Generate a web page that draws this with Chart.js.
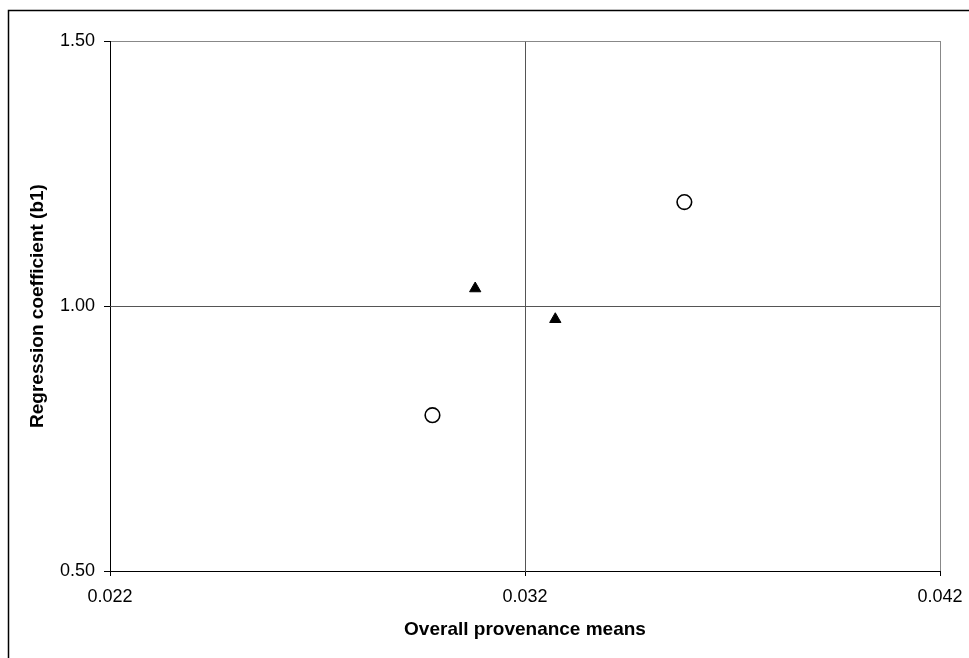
<!DOCTYPE html>
<html>
<head>
<meta charset="utf-8">
<script src="https://cdn.jsdelivr.net/npm/chart.js@4/dist/chart.umd.min.js"></script>
<style>
  html, body { margin: 0; padding: 0; background: #fff; }
  #wrap { width: 969px; height: 658px; position: relative; }
</style>
</head>
<body>
<div id="wrap"><canvas id="c"></canvas></div>
<script>
// Provenance groups: overall mean vs. regression coefficient (b1)
const triangleX = [0.0308, 0.03273];
const triangleY = [1.033, 0.975];
const circleX = [0.02977, 0.03584];
const circleY = [0.794, 1.196];

const xTicks = [0.022, 0.032, 0.042];
const yTicks = [0.50, 1.00, 1.50];

const xTitle = 'Overall provenance means';
const yTitle = 'Regression coefficient (b1)';

const FONT = 'Liberation Sans, Arial, Helvetica, sans-serif';

// Chart-area frame: top and left edges of the outer box
const outerFrame = {
  id: 'outerFrame',
  beforeDraw(chart) {
    const ctx = chart.ctx;
    ctx.save();
    ctx.strokeStyle = '#000';
    ctx.lineWidth = 1.5;
    ctx.beginPath();
    ctx.moveTo(8.5, 658);
    ctx.lineTo(8.5, 10.5);
    ctx.lineTo(969, 10.5);
    ctx.stroke();
    ctx.restore();
  }
};

const toPts = (xs, ys) => xs.map((x, i) => ({ x: x, y: ys[i] }));

new Chart(document.getElementById('c'), {
  type: 'scatter',
  data: {
    datasets: [
      {
        label: 'triangles',
        data: toPts(triangleX, triangleY),
        pointStyle: 'triangle',
        pointRadius: 6.5,
        pointHoverRadius: 6.5,
        backgroundColor: '#000',
        borderColor: '#000',
        borderWidth: 1
      },
      {
        label: 'circles',
        data: toPts(circleX, circleY),
        pointStyle: 'circle',
        pointRadius: 7.3,
        pointHoverRadius: 7.3,
        backgroundColor: '#fff',
        borderColor: '#000',
        borderWidth: 1.6
      }
    ]
  },
  options: {
    responsive: true,
    maintainAspectRatio: false,
    animation: false,
    events: [],
    layout: { padding: { left: 0, top: 41, right: 29, bottom: 0 } },
    plugins: {
      legend: { display: false },
      tooltip: { enabled: false }
    },
    scales: {
      x: {
        type: 'linear',
        min: xTicks[0],
        max: xTicks[xTicks.length - 1],
        afterBuildTicks: s => { s.ticks = xTicks.map(v => ({ value: v })); },
        afterFit: s => { s.height = 87; s.paddingLeft = 0; s.paddingRight = 0; },
        border: { display: true, color: '#000', width: 1 },
        grid: {
          drawTicks: true,
          tickLength: 5,
          tickColor: '#000',
          lineWidth: 1,
          color: ctx => ctx.index === 1 ? '#555' : (ctx.index === 2 ? '#888' : 'rgba(0,0,0,0)')
        },
        ticks: {
          color: '#000',
          padding: 10,
          maxRotation: 0,
          font: { family: FONT, size: 18 },
          callback: v => Number(v).toFixed(3)
        },
        title: {
          display: true,
          text: xTitle,
          color: '#000',
          padding: { top: 0, bottom: 16.6 },
          font: { family: FONT, size: 19, weight: 'bold' }
        }
      },
      y: {
        type: 'linear',
        min: yTicks[0],
        max: yTicks[yTicks.length - 1],
        afterBuildTicks: s => { s.ticks = yTicks.map(v => ({ value: v })); },
        afterFit: s => { s.width = 110; s.paddingTop = 0; s.paddingBottom = 0; },
        border: { display: true, color: '#000', width: 1 },
        grid: {
          drawTicks: true,
          tickLength: 6,
          tickColor: '#000',
          lineWidth: 1,
          color: ctx => ctx.index === 1 ? '#555' : (ctx.index === 2 ? '#888' : 'rgba(0,0,0,0)')
        },
        ticks: {
          color: '#000',
          padding: 9,
          font: { family: FONT, size: 18 },
          callback: v => Number(v).toFixed(2)
        },
        title: {
          display: true,
          text: yTitle,
          color: '#000',
          padding: { top: 26.6, bottom: 0 },
          font: { family: FONT, size: 19, weight: 'bold' }
        }
      }
    }
  },
  plugins: [outerFrame]
});
</script>
</body>
</html>
